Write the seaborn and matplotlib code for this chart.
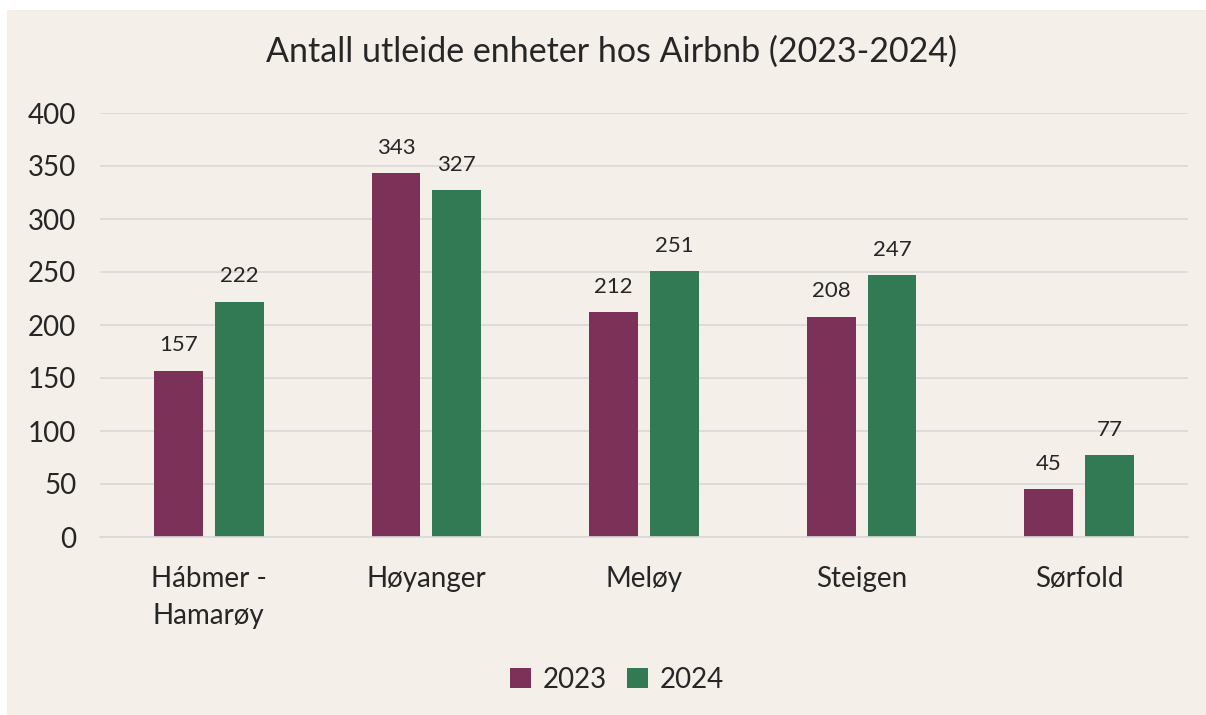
import matplotlib
matplotlib.use("Agg")
import matplotlib.pyplot as plt
from matplotlib.patches import Rectangle
import pandas as pd
import seaborn as sns

# --- data ---
kommuner = ["Hábmer -\nHamarøy", "Høyanger", "Meløy", "Steigen", "Sørfold"]
enheter_2023 = [157, 343, 212, 208, 45]
enheter_2024 = [222, 327, 251, 247, 77]
aar = ["2023", "2024"]
y_ticks = [0, 50, 100, 150, 200, 250, 300, 350, 400]

df = pd.DataFrame({
    "kommune": kommuner * 2,
    "aar": [aar[0]] * len(kommuner) + [aar[1]] * len(kommuner),
    "enheter": enheter_2023 + enheter_2024,
})

bg = "#F5EFE9"
palette = {"2023": "#7B3158", "2024": "#327A54"}
txt = "#262626"

sns.set_theme(style="white")
plt.rcParams["font.family"] = ["Lato", "DejaVu Sans"]

fig = plt.figure(figsize=(12.06, 7.15), dpi=100, facecolor="white")
fig.patches.append(Rectangle((7 / 1206, 0), 1 - 7 / 1206, 1 - 10 / 715,
                             transform=fig.transFigure, facecolor=bg,
                             edgecolor="none", zorder=-10))
ax = fig.add_axes([100 / 1206, 1 - 537 / 715, 1088 / 1206, 424 / 715])
ax.set_facecolor(bg)
ax.set_zorder(1)

sns.barplot(data=df, x="kommune", y="enheter", hue="aar", palette=palette,
            width=0.56, gap=0.2, ax=ax, legend=True, saturation=1,
            linewidth=0, edgecolor="none")

for cont in ax.containers:
    ax.bar_label(cont, padding=11, fontsize=16, color=txt)

ax.set_ylim(0, 400)
ax.set_yticks(y_ticks)
ax.grid(axis="y", color="#D9D9D9", linewidth=1.2)
ax.set_axisbelow(True)
for s in ["top", "right", "left"]:
    ax.spines[s].set_visible(False)
ax.spines["bottom"].set_color("#D9D9D9")
ax.spines["bottom"].set_linewidth(1.2)
ax.tick_params(axis="y", labelsize=20, colors=txt, length=0, pad=17)
ax.tick_params(axis="x", labelsize=20, colors=txt, length=0, pad=21)
for lbl in ax.get_xticklabels():
    lbl.set_linespacing(1.5)
ax.set_xlabel("")
ax.set_ylabel("")

fig.suptitle("Antall utleide enheter hos Airbnb (2023-2024)", fontsize=24.5,
             color=txt, x=0.507, y=1 - 36 / 715, va="top")

ax.legend(loc="center", bbox_to_anchor=(617 / 1206, 1 - 680 / 715),
          bbox_transform=fig.transFigure, ncol=2, frameon=False, fontsize=20,
          handlelength=0.75, handleheight=0.75, handletextpad=0.4,
          columnspacing=0.75, labelcolor=txt)

fig.savefig("out.png", dpi=100, facecolor=fig.get_facecolor())
